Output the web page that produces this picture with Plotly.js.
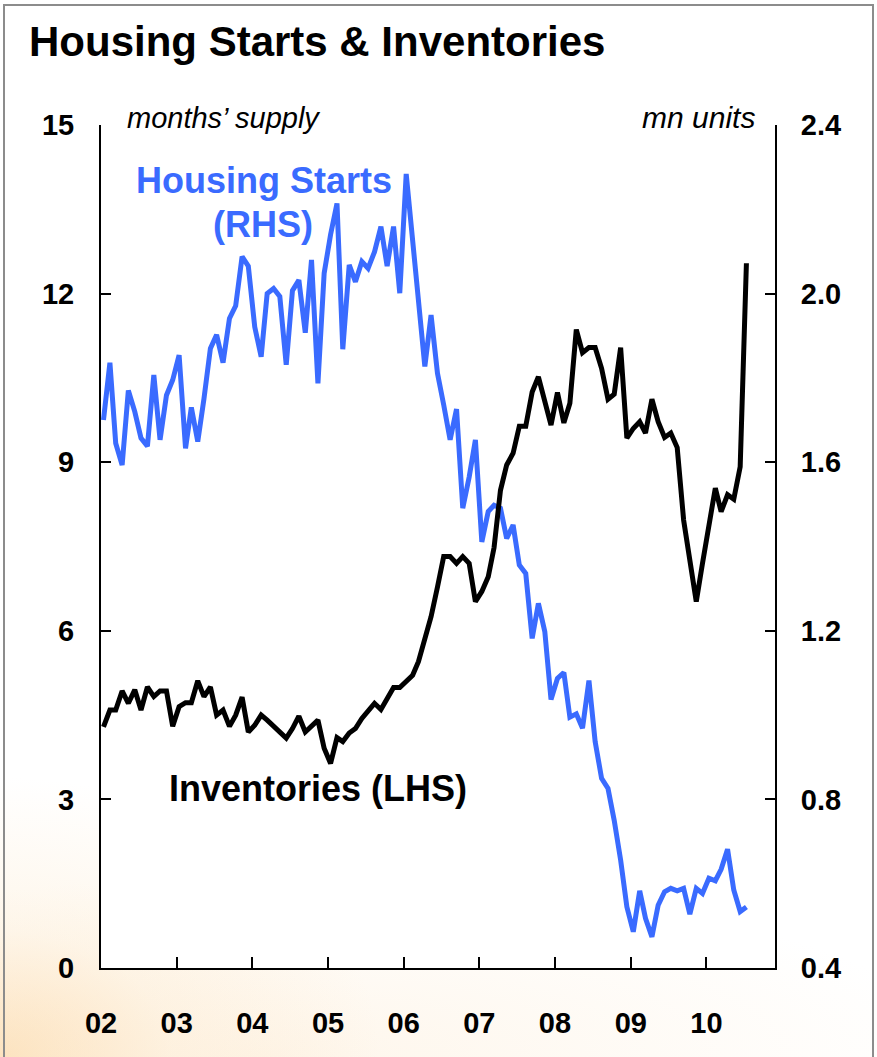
<!DOCTYPE html>
<html>
<head>
<meta charset="utf-8">
<script src="https://cdn.plot.ly/plotly-3.0.1.min.js"></script>
<style>
  html, body { margin: 0; padding: 0; }
  body {
    width: 877px; height: 1057px; overflow: hidden; position: relative;
    background:
      radial-gradient(ellipse 380px 280px at 0% 100%, rgba(250,200,130,0.45) 0%, rgba(252,225,185,0.28) 45%, rgba(255,255,255,0) 100%),
      radial-gradient(ellipse 700px 180px at 30% 100%, rgba(253,235,210,0.45) 0%, rgba(255,255,255,0) 100%),
      #ffffff;
  }
  #chart { width: 877px; height: 1057px; position: absolute; left: 0; top: 0; }
  #frame { position: absolute; left: 3px; top: 4px; width: 867px; height: 1100px;
           border: 2px solid #8c8c8c; pointer-events: none; }
</style>
</head>
<body>
<div id="chart"></div>
<div id="frame"></div>
<script>
// Housing starts, mn units (RHS), Jan 2002 - Jul 2010
const housingStarts = [
  1.700, 1.836, 1.645, 1.593, 1.770, 1.720, 1.657, 1.638, 1.807, 1.653, 1.759, 1.795,
  1.854, 1.633, 1.730, 1.649, 1.751, 1.870, 1.902, 1.836, 1.941, 1.971, 2.088, 2.065,
  1.921, 1.850, 2.000, 2.012, 1.993, 1.831, 2.007, 2.032, 1.907, 2.080, 1.787, 2.048,
  2.140, 2.214, 1.868, 2.068, 2.028, 2.076, 2.060, 2.099, 2.159, 2.065, 2.159, 2.001,
  2.284, 2.120, 1.977, 1.827, 1.949, 1.811, 1.736, 1.653, 1.726, 1.491, 1.565, 1.653,
  1.411, 1.483, 1.498, 1.491, 1.419, 1.451, 1.356, 1.336, 1.182, 1.265, 1.198, 1.037,
  1.087, 1.101, 0.995, 1.003, 0.969, 1.082, 0.937, 0.850, 0.826, 0.750, 0.656, 0.545,
  0.486, 0.583, 0.518, 0.474, 0.549, 0.581, 0.589, 0.583, 0.589, 0.528, 0.589, 0.577,
  0.613, 0.607, 0.634, 0.682, 0.585, 0.534, 0.545
];
// Inventories, months' supply (LHS), Jan 2002 - Jul 2010
const inventories = [
  4.29, 4.59, 4.59, 4.93, 4.71, 4.95, 4.59, 5.00, 4.83, 4.93, 4.93, 4.30,
  4.65, 4.72, 4.72, 5.11, 4.83, 5.00, 4.50, 4.59, 4.30, 4.50, 4.82, 4.20,
  4.32, 4.50, 4.41, 4.30, 4.20, 4.09, 4.26, 4.48, 4.20, 4.30, 4.41, 3.91,
  3.64, 4.10, 4.03, 4.18, 4.26, 4.44, 4.57, 4.71, 4.60, 4.80, 4.99, 4.99,
  5.10, 5.21, 5.45, 5.84, 6.25, 6.78, 7.32, 7.32, 7.20, 7.32, 7.20, 6.52,
  6.70, 6.96, 7.48, 8.50, 8.95, 9.16, 9.64, 9.64, 10.25, 10.52, 10.10, 9.66,
  10.24, 9.70, 10.05, 11.36, 10.95, 11.04, 11.04, 10.67, 10.12, 10.21, 11.04, 9.43,
  9.60, 9.72, 9.52, 10.12, 9.72, 9.44, 9.52, 9.26, 7.97, 7.20, 6.52, 7.20,
  7.90, 8.54, 8.12, 8.42, 8.34, 8.92, 12.54
];
const startYear = 2002;
const months = [];
for (let i = 0; i < housingStarts.length; i++) {
  const y = startYear + Math.floor(i / 12);
  const m = (i % 12) + 1;
  months.push(y + '-' + String(m).padStart(2, '0') + '-13');
}
const leftTicks = [0, 3, 6, 9, 12, 15];
const rightTicks = [0.4, 0.8, 1.2, 1.6, 2.0, 2.4];

const FONT = 'Arial, "Liberation Sans", sans-serif';
const BLUE = '#3a6bff';

const traces = [
  { x: months, y: housingStarts, type: 'scatter', mode: 'lines', name: 'Housing Starts (RHS)',
    yaxis: 'y', line: { color: BLUE, width: 5 }, hoverinfo: 'skip' },
  { x: months, y: inventories, type: 'scatter', mode: 'lines', name: 'Inventories (LHS)',
    yaxis: 'y2', line: { color: '#000000', width: 5 }, hoverinfo: 'skip' }
];

const L = 101, R = 775, T = 125, B = 968;
const px = v => (v - L) / (R - L);
const py = v => (B - v) / (B - T);

const layout = {
  width: 877, height: 1057,
  margin: { l: L, r: 877 - R, t: T, b: 1057 - B, pad: 0 },
  paper_bgcolor: 'rgba(0,0,0,0)',
  plot_bgcolor: '#ffffff',
  showlegend: false,
  font: { family: FONT, color: '#000' },
  title: { text: '<b>Housing Starts & Inventories</b>', font: { size: 42, family: FONT, color: '#000' },
           xref: 'container', x: 29 / 877, xanchor: 'left', yref: 'container', y: 1 - 41 / 1057, yanchor: 'middle' },
  xaxis: {
    type: 'date', range: ['2002-01-01', '2010-11-28'],
    tick0: '2002-01-01', dtick: 'M12', tickformat: '%y',
    ticks: 'inside', ticklen: 11, tickwidth: 2, tickcolor: '#000',
    showline: true, linewidth: 2, linecolor: '#000', showgrid: false, zeroline: false,
    tickfont: { size: 29, family: FONT, color: '#000', weight: 'bold' },
    ticklabelstandoff: 28
  },
  yaxis: {
    side: 'right', range: [0.4, 2.4], tickvals: rightTicks, tickformat: '.1f',
    ticks: 'inside', ticklen: 10, tickwidth: 2, tickcolor: '#000',
    showline: true, linewidth: 2, linecolor: '#000', showgrid: false, zeroline: false,
    tickfont: { size: 29, family: FONT, color: '#000', weight: 'bold' },
    ticklabelstandoff: 18
  },
  yaxis2: {
    overlaying: 'y', side: 'left', range: [0, 15], tickvals: leftTicks,
    ticks: 'inside', ticklen: 10, tickwidth: 2, tickcolor: '#000',
    showline: true, linewidth: 2, linecolor: '#000', showgrid: false, zeroline: false,
    tickfont: { size: 29, family: FONT, color: '#000', weight: 'bold' },
    ticklabelstandoff: 19
  },
  annotations: [
    { xref: 'paper', yref: 'paper', x: px(125), y: py(118), xanchor: 'left', yanchor: 'middle',
      text: '<i>months’ supply</i>', showarrow: false, font: { size: 29, family: FONT, color: '#000' } },
    { xref: 'paper', yref: 'paper', x: px(757), y: py(118), xanchor: 'right', yanchor: 'middle',
      text: '<i>mn units</i>', showarrow: false, font: { size: 30, family: FONT, color: '#000' } },
    { xref: 'paper', yref: 'paper', x: px(264), y: py(180), xanchor: 'center', yanchor: 'middle',
      text: '<b>Housing Starts</b>', showarrow: false, font: { size: 36, family: FONT, color: BLUE } },
    { xref: 'paper', yref: 'paper', x: px(263), y: py(225), xanchor: 'center', yanchor: 'middle',
      text: '<b>(RHS)</b>', showarrow: false, font: { size: 36, family: FONT, color: BLUE } },
    { xref: 'paper', yref: 'paper', x: px(318), y: py(788), xanchor: 'center', yanchor: 'middle',
      text: '<b>Inventories (LHS)</b>', showarrow: false, font: { size: 36, family: FONT, color: '#000' } }
  ]
};

Plotly.newPlot('chart', traces, layout, { displayModeBar: false, staticPlot: true });
</script>
</body>
</html>
